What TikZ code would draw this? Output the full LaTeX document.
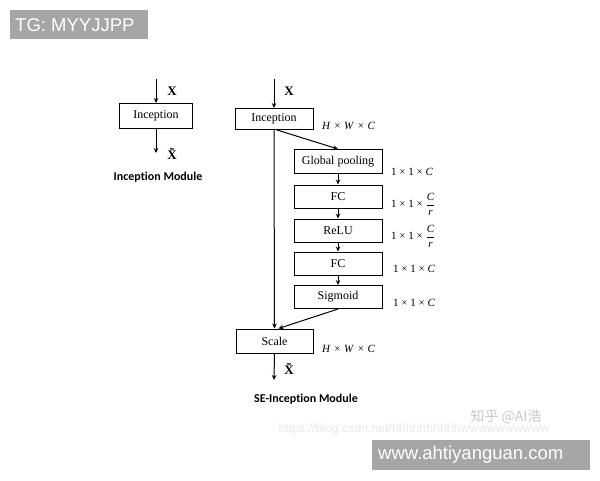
\documentclass[tikz,border=0pt]{standalone}
\usepackage{fontspec}
\setmainfont{Liberation Serif}
\newfontfamily\labfont[Ligatures=NoCommon]{Carlito}
\newfontfamily\wmfont{Liberation Sans}
\newfontfamily\cjk{Noto Sans CJK SC}
\usetikzlibrary{arrows.meta}
\definecolor{wmgray}{HTML}{A6A6A6}
\newcommand{\cfrac}{$\displaystyle\frac{\mbox{\itshape C}}{\mbox{\itshape r}}$}
\newcommand{\xtil}{X^^^^0303}
\begin{document}
\begin{tikzpicture}[x=1pt,y=-1pt,
  blk/.style={draw,line width=1pt,rectangle,inner sep=0pt,font=\fontsize{12}{14}\selectfont},
  arr/.style={line width=1pt,-{Stealth[length=5pt,width=4.5pt]}},
  dim/.style={font=\fontsize{11}{13}\selectfont,anchor=west,inner sep=0pt},
  xl/.style={font=\fontsize{13}{15}\selectfont\bfseries,inner sep=0pt},
  modl/.style={font=\labfont\bfseries\fontsize{12}{14}\selectfont,inner sep=0pt},
  wmbox/.style={fill=wmgray,text=white,font=\wmfont\fontsize{18.5}{20}\selectfont,inner sep=0pt,anchor=west}]
\useasboundingbox (0,0) rectangle (600,480);
% watermarks
\fill[wmgray] (10,10) rectangle (148,39);
\node[wmbox] (tg) at (15,25) {TG: MYYJJPP};
\fill[wmgray] (372,440) rectangle (590,470);
\node[wmbox] (www) at (378,455) {www.ahtiyanguan.com};
\node[font=\cjk\fontsize{14}{16}\selectfont,text=black!22,inner sep=0pt] (zh) at (506,417) {知乎 @AI浩};
\node[font=\wmfont\fontsize{12.3}{14}\selectfont,text=black!9,inner sep=0pt] (url) at (414,429) {https://blog.csdn.net/hhhhhhhhhhwwwwwwwwww};
% left module
\node[blk,minimum width=73pt,minimum height=25pt] (linc) at (156,116) {Inception};
\coordinate (lin) at (156,79);
\coordinate (lout) at (156,153);
\draw[arr] (lin) -- (linc.north);
\draw[arr] (linc.south) -- (lout);
\node[xl] (lx) at (172,91) {X};
\node[xl] (lxt) at (172,154) {\xtil};
\node[modl] (lmod) at (158,177) {Inception Module};
% right module
\node[blk,minimum width=78pt,minimum height=21pt] (rinc) at (274,119) {Inception};
\coordinate (rin) at (274,79);
\draw[arr] (rin) -- (rinc.north);
\node[xl] (rx) at (289,91) {X};
\node[blk,minimum width=88pt,minimum height=24pt] (gp) at (338,161.5) {Global pooling};
\node[blk,minimum width=88pt,minimum height=23pt] (fc1) at (338,196.5) {FC};
\node[blk,minimum width=88pt,minimum height=23pt] (relu) at (338,230.5) {ReLU};
\node[blk,minimum width=88pt,minimum height=23pt] (fc2) at (338,263.5) {FC};
\node[blk,minimum width=88pt,minimum height=23pt] (sig) at (338,297) {Sigmoid};
\node[blk,minimum width=77pt,minimum height=24pt] (scale) at (274.5,341) {Scale};
\draw[arr] (rinc.south) -- (scale.north);
\draw[arr] ([xshift=3pt]rinc.south) -- (gp.north);
\draw[arr] (gp) -- (fc1);
\draw[arr] (fc1) -- (relu);
\draw[arr] (relu) -- (fc2);
\draw[arr] (fc2) -- (sig);
\draw[arr] (sig.south) -- ([xshift=4pt]scale.north);
\coordinate (rout) at (274,380);
\draw[arr] (scale.south) -- (rout);
\node[xl] (rxt) at (289,369) {\xtil};
\node[modl] (rmod) at (306,399) {SE-Inception Module};
% dimension labels
\node[dim] (d1) at (322,126) {\textit{H}\,\,×\,\,\textit{W}\,\,×\,\,\textit{C}};
\node[dim] (d2) at (391,172) {1 × 1 × \textit{C}};
\node[dim] (d3) at (391,204) {1 × 1 × \cfrac};
\node[dim] (d4) at (391,236) {1 × 1 × \cfrac};
\node[dim] (d5) at (393,269) {1 × 1 × \textit{C}};
\node[dim] (d6) at (393,303) {1 × 1 × \textit{C}};
\node[dim] (d7) at (322,349) {\textit{H}\,\,×\,\,\textit{W}\,\,×\,\,\textit{C}};
\end{tikzpicture}
\end{document}
